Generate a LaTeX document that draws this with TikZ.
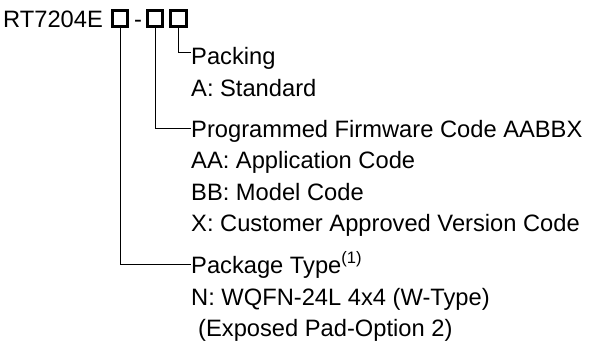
\documentclass[tikz,border=0pt]{standalone}
\usepackage{fontspec}
\setmainfont{Liberation Sans}
\begin{document}
\begin{tikzpicture}[x=1pt, y=-1pt]
  \useasboundingbox (0, 0) rectangle (590, 343);

  % Stile.
  \tikzstyle{txt}=[anchor=base west, inner sep=0pt, font=\fontsize{23.7}{28}\selectfont]
  \tikzstyle{head}=[txt, text height=17pt, text depth=0pt]
  \tikzstyle{field}=[draw, line width=3pt, minimum size=15.5pt, inner sep=0pt]
  \tikzstyle{lead}=[line width=0.9pt]

  % Typenbezeichnung.
  \node[txt] (name) at (3, 27) {RT7204E};
  \node[field] (pt) at (120, 18.5) {};
  \node[txt] (dash) at (134, 27) {-};
  \node[field] (fw) at (155, 18.5) {};
  \node[field] (pk) at (178.5, 18.5) {};

  % Felder.
  \node[head] (pack) at (191, 64) {Packing};
  \node[txt] (packa) at (191, 96) {A: Standard};
  \node[head] (firm) at (191, 137) {Programmed Firmware Code AABBX};
  \node[txt] (firma) at (191, 168) {AA: Application Code};
  \node[txt] (firmb) at (191, 200) {BB: Model Code};
  \node[txt] (firmc) at (191, 231) {X: Customer Approved Version Code};
  \node[head] (type) at (191, 273) {Package Type\textsuperscript{(1)}};
  \node[txt] (typea) at (191, 305) {N: WQFN-24L 4x4 (W-Type)};
  \node[txt] (typeb) at (198, 336) {(Exposed Pad-Option 2)};

  % Zuleitungen.
  \draw[lead] (pk.south) |- ([yshift=3pt]pack.west);
  \draw[lead] (fw.south) |- (firm.west);
  \draw[lead] (pt.south) |- (type.west);
\end{tikzpicture}
\end{document}
